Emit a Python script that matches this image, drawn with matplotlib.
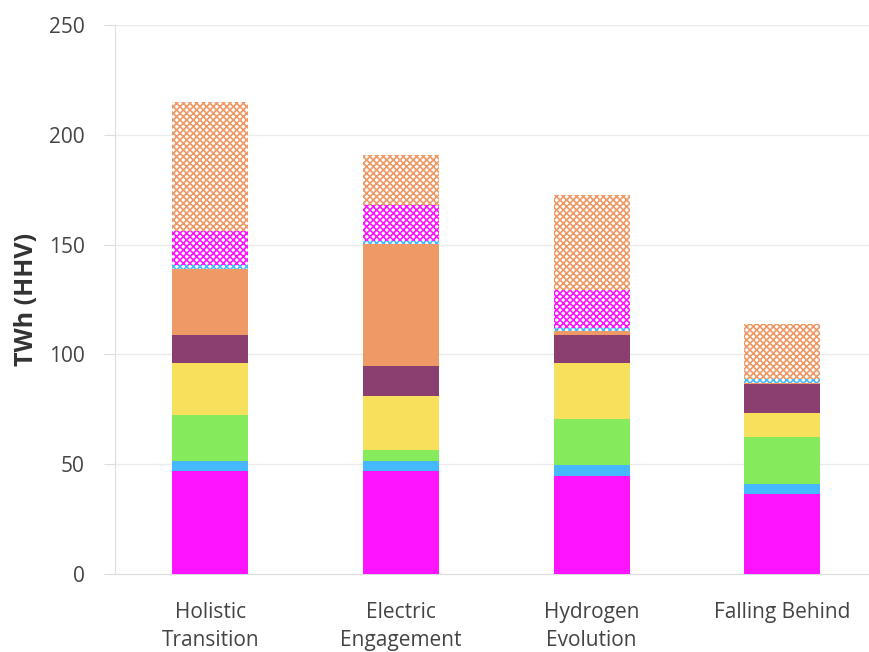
import numpy as np
import matplotlib
matplotlib.use("Agg")
import matplotlib.pyplot as plt

scenarios = ["Holistic\nTransition", "Electric\nEngagement",
             "Hydrogen\nEvolution", "Falling Behind"]

# stacked segments, bottom to top (TWh)
seg_magenta = [47.0, 47.0, 44.6, 36.4]
seg_blue = [4.5, 4.5, 5.0, 4.6]
seg_green = [20.9, 5.0, 21.0, 21.4]
seg_yellow = [23.7, 24.5, 25.5, 10.9]
seg_purple = [12.7, 13.7, 12.7, 13.2]
seg_orange = [30.1, 55.6, 1.9, 0.7]
seg_blue_h = [1.6, 1.3, 1.3, 1.8]
seg_magenta_h = [15.6, 16.4, 17.3, 0.0]
seg_orange_h = [58.9, 22.8, 43.3, 24.9]

solid = [
    (seg_magenta, "#ff14ff"),
    (seg_blue, "#45b8ff"),
    (seg_green, "#86eb5c"),
    (seg_yellow, "#f7e15c"),
    (seg_purple, "#8a3f70"),
    (seg_orange, "#ee9966"),
]
hatched = [
    (seg_blue_h, "#45b8ff"),
    (seg_magenta_h, "#ff14ff"),
    (seg_orange_h, "#ee9966"),
]

plt.rcParams["font.family"] = ["Open Sans", "DejaVu Sans"]
plt.rcParams["hatch.linewidth"] = 1.2

fig = plt.figure(figsize=(8.7, 6.52), dpi=100)
ax = fig.add_axes([115 / 870, 78 / 652, 755 / 870, 549 / 652])

x = np.arange(len(scenarios))
width = 0.4
bottom = np.zeros(len(scenarios))
for vals, col in solid:
    ax.bar(x, vals, width, bottom=bottom, color=col, linewidth=0, zorder=3)
    bottom += np.array(vals)
for vals, col in hatched:
    ax.bar(x, vals, width, bottom=bottom, facecolor="white", edgecolor=col,
           hatch="xxxxx", linewidth=0, zorder=3)
    bottom += np.array(vals)

ax.set_xlim(-0.5, 3.46)
ax.set_ylim(0, 250)
ax.set_yticks([0, 50, 100, 150, 200, 250])
ax.set_xticks(x)
ax.set_xticklabels(scenarios, fontsize=15, color="#444444", linespacing=1.45)
ax.tick_params(axis="x", length=0, pad=20)
ax.tick_params(axis="y", labelsize=15, labelcolor="#444444", color="#dddddd",
               length=8, pad=14)
ax.yaxis.grid(True, color="#ebebeb", linewidth=1, zorder=0)
ax.set_axisbelow(True)
for side in ["top", "right"]:
    ax.spines[side].set_visible(False)
ax.spines["left"].set_color("#dddddd")
ax.spines["bottom"].set_color("#dddddd")
ax.set_ylabel("TWh (HHV)", fontsize=18, fontweight="bold", color="#333333",
              labelpad=7)

fig.savefig("out.png", dpi=100)
